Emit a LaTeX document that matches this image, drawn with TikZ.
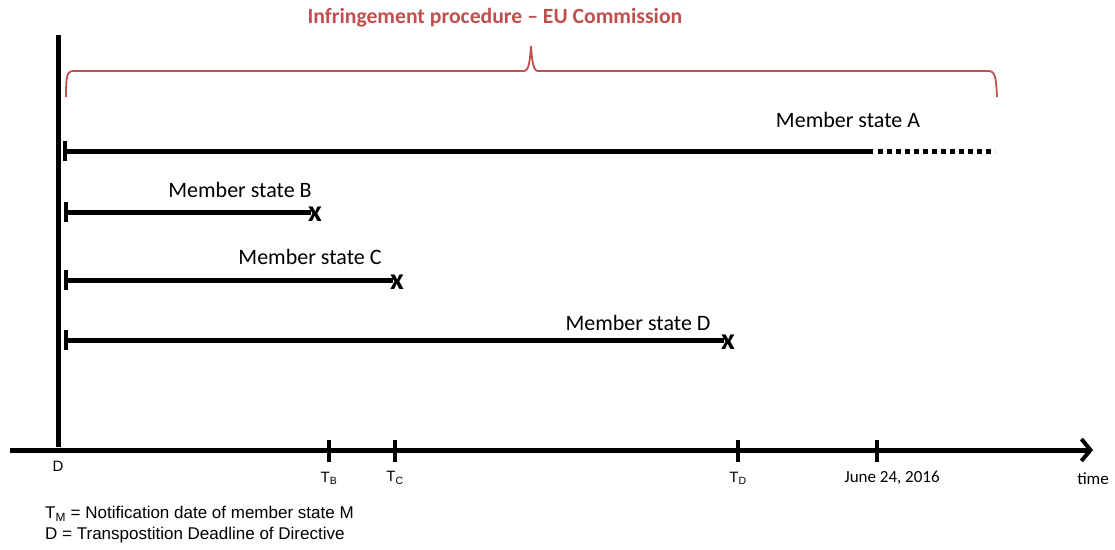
\documentclass[tikz,border=0pt]{standalone}
\usepackage{fontspec}
\setmainfont{Carlito}
\newfontfamily\arialfont{Liberation Sans}
\definecolor{euRed}{HTML}{C0504D}
\definecolor{euInk}{HTML}{000000}
\usetikzlibrary{arrows.meta}

\begin{document}
\begin{tikzpicture}[x=1pt,y=-1pt,
                    span/.style={draw=euInk,line width=5pt},
                    stub/.style={draw=euInk,line width=4pt},
                    cross/.style={font=\bfseries\fontsize{30}{30}\selectfont,inner sep=0pt},
                    state/.style={font=\fontsize{22}{22}\selectfont,inner sep=0pt},
                    ticklabel/.style={font=\arialfont\fontsize{15}{15}\selectfont,inner sep=0pt},
                    legend/.style={font=\arialfont\fontsize{17}{21}\selectfont,align=left,inner sep=0pt}]
  \useasboundingbox (0,0) rectangle (1115,549);

  % title and brace
  \node[font=\bfseries\fontsize{21.7}{21.7}\selectfont,text=euRed,inner sep=0pt] (title) at (495,18)
    {Infringement procedure -- EU Commission};
  \draw[euRed,line width=1.8pt] (66,97) .. controls (66,75) and (67,71) .. (74,71) -- (524,71)
    .. controls (529,71) and (530,60) .. (531,46) .. controls (532,60) and (533,71) .. (538,71)
    -- (988,71) .. controls (995,71) and (996,76) .. (997,97);

  % deadline and time axis
  \coordinate (dtop) at (58,35);
  \coordinate (dbot) at (58,447);
  \draw[span] (dtop) -- (dbot);
  \coordinate (tstart) at (10,450);
  \coordinate (tend) at (1093,450);
  \draw[span,-{Straight Barb[length=9pt,width=22pt,line width=4pt]}] (tstart) -- (tend);
  \node[ticklabel] (dlabel) at (58,466) {D};
  \node[font=\fontsize{17}{17}\selectfont,inner sep=0pt] (time) at (1093,479) {time};

  \foreach \tag/\x/\lab in {B/329/T\textsubscript{B}, C/395/T\textsubscript{C}, D/738/T\textsubscript{D}}{
    \draw[stub] (\x,440) -- (\x,462);
    \node[ticklabel] (t\tag) at (\x,478) {\lab};
  }
  \draw[stub] (877,440) -- (877,462);
  \node[font=\fontsize{17}{17}\selectfont,inner sep=0pt] (june) at (892,478) {June 24, 2016};

  % member state A, still open
  \coordinate (sA) at (65,151);
  \coordinate (mA) at (873,151);
  \coordinate (eA) at (995,151);
  \draw[stub] ([yshift=-10pt]sA) -- ([yshift=10pt]sA);
  \draw[span] (sA) -- (mA);
  \draw[span,dash pattern=on 5pt off 4pt] ([xshift=5pt]mA) -- (eA);
  \node[state] (lA) at (848,120) {Member state A};

  % member states B, C, D
  \foreach \name/\y/\xend/\lx/\ly in {B/212/311/240/190, C/280/393/310/257, D/340/724/638/323}{
    \coordinate (s\name) at (66,\y);
    \coordinate (e\name) at (\xend,\y);
    \draw[stub] ([yshift=-10pt]s\name) -- ([yshift=10pt]s\name);
    \draw[span] (s\name) -- (e\name);
    \node[cross] (x\name) at ([xshift=4pt,yshift=-2pt]e\name) {x};
    \node[state] (l\name) at (\lx,\ly) {Member state \name};
  }

  % legend
  \node[legend,anchor=north west] (key) at (45,506)
    {T\textsubscript{M} = Notification date of member state M\\
     D = Transpostition Deadline of Directive};
\end{tikzpicture}
\end{document}
